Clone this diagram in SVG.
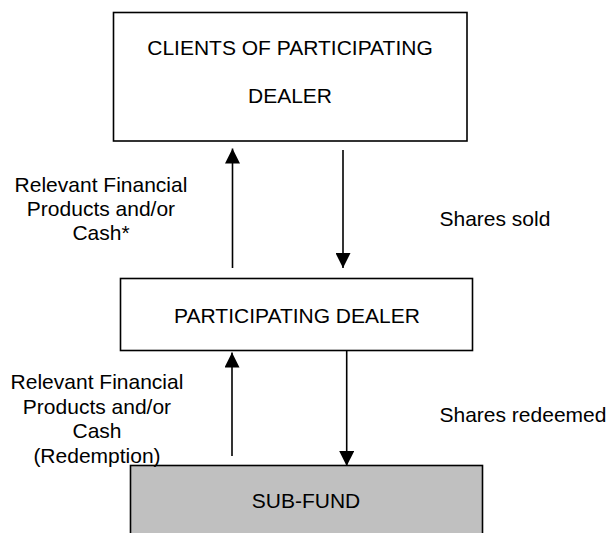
<svg xmlns="http://www.w3.org/2000/svg" width="609" height="533" viewBox="0 0 609 533">
<defs>
<style>
.box{fill:#ffffff;stroke:#000000;stroke-width:1.6}
.grey{fill:#c0c0c0;stroke:#000000;stroke-width:1.6}
.t{font-family:"Liberation Sans",Arial,sans-serif;font-size:21px;fill:#000000}
.m{text-anchor:middle}
.c{stroke:#000000;stroke-width:1.6;fill:none;marker-end:url(#ah)}
</style>
<marker id="ah" viewBox="0 0 15 15" refX="15" refY="7.5" markerWidth="15" markerHeight="15" markerUnits="userSpaceOnUse" orient="auto">
<path d="M0,0 L15,7.5 L0,15 Z" fill="#000000"/>
</marker>
</defs>
<rect width="609" height="533" fill="#ffffff"/>
<g id="clients">
<rect class="box" x="113.5" y="12.5" width="353.5" height="128.5"/>
<text class="t m" x="290" y="55">CLIENTS OF PARTICIPATING</text>
<text class="t m" x="290" y="103">DEALER</text>
</g>
<g id="dealer">
<rect class="box" x="120.5" y="278.5" width="352" height="72"/>
<text class="t m" x="297" y="322.5">PARTICIPATING DEALER</text>
</g>
<g id="subfund">
<rect class="grey" x="130.5" y="465.5" width="352" height="80"/>
<text class="t m" x="306" y="508">SUB-FUND</text>
</g>
<g id="connectors">
<line class="c" x1="232.5" y1="268" x2="232.5" y2="148.5"/>
<line class="c" x1="343" y1="150" x2="343" y2="268"/>
<line class="c" x1="232" y1="456" x2="232" y2="352.5"/>
<line class="c" x1="346.7" y1="350.5" x2="346.7" y2="466"/>
</g>
<g id="labels">
<text class="t m" x="101" y="192">Relevant Financial</text>
<text class="t m" x="101" y="216">Products and/or</text>
<text class="t m" x="101" y="240">Cash*</text>
<text class="t" x="439.5" y="225.5">Shares sold</text>
<text class="t m" x="97" y="389">Relevant Financial</text>
<text class="t m" x="97" y="414">Products and/or</text>
<text class="t m" x="97" y="438">Cash</text>
<text class="t m" x="97" y="463">(Redemption)</text>
<text class="t" x="439.5" y="422">Shares redeemed</text>
</g>
</svg>
